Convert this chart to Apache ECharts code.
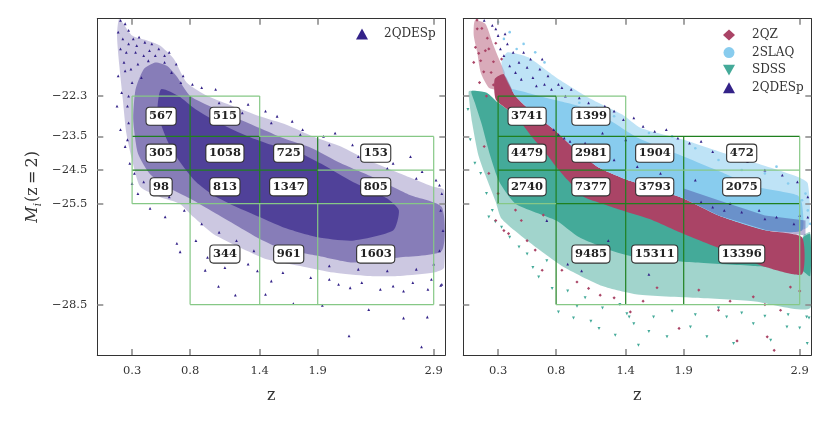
<!DOCTYPE html>
<html><head><meta charset="utf-8">
<script src="https://cdn.jsdelivr.net/npm/echarts@6/dist/echarts.min.js"></script>
<style>html,body{margin:0;padding:0;background:#fff}#c{width:830px;height:422px}</style>
</head><body><div id="c"></div>
<script>
// ---------- tick labels ----------
const zTicks = [0.3, 0.8, 1.4, 1.9, 2.9];
const mTicks = [-22.3, -23.5, -24.5, -25.5, -28.5];

// ---------- bins (z0, z1, M top, M bottom) ----------
const binZ0 = [0.3,0.3,0.3, 0.8,0.8,0.8,0.8, 1.4,1.4,1.4, 1.9,1.9,1.9];
const binZ1 = [0.8,0.8,0.8, 1.4,1.4,1.4,1.4, 1.9,1.9,1.9, 2.9,2.9,2.9];
const binMt = [-22.3,-23.5,-24.5, -22.3,-23.5,-24.5,-25.5, -23.5,-24.5,-25.5, -23.5,-24.5,-25.5];
const binMb = [-23.5,-24.5,-25.5, -23.5,-24.5,-25.5,-28.5, -24.5,-25.5,-28.5, -24.5,-25.5,-28.5];
const countsLeft  = [567,305,98, 515,1058,813,344, 725,1347,961, 153,805,1603];
const countsRight = [3741,4479,2740, 1399,2981,7377,9485, 1904,3793,15311, 472,2075,13396];

// bin edge segments [z0,M0,z1,M1, dark(1)/light(0)]
const edgesLeft = [
 [0.3,-23.5,1.4,-23.5,1],[0.3,-24.5,1.9,-24.5,1],[0.8,-22.3,0.8,-25.5,1],[1.4,-23.5,1.4,-25.5,1],[1.9,-23.5,1.9,-25.5,1],
 [0.3,-22.3,1.4,-22.3,0],[0.3,-22.3,0.3,-25.5,0],[1.4,-22.3,1.4,-23.5,0],[1.4,-23.5,2.9,-23.5,0],[1.9,-24.5,2.9,-24.5,0],
 [0.3,-25.5,2.9,-25.5,0],[0.8,-25.5,0.8,-28.5,0],[1.4,-25.5,1.4,-28.5,0],[1.9,-25.5,1.9,-28.5,0],[0.8,-28.5,2.9,-28.5,0],[2.9,-23.5,2.9,-28.5,0]
];
const edgesRight = [
 [0.3,-22.3,0.8,-22.3,1],[0.3,-23.5,2.9,-23.5,1],[0.3,-24.5,1.4,-24.5,1],[0.8,-25.5,2.9,-25.5,1],[0.3,-22.3,0.3,-25.5,1],
 [0.8,-22.3,0.8,-28.5,1],[1.4,-23.5,1.4,-28.5,1],[1.9,-23.5,1.9,-28.5,1],
 [0.8,-22.3,1.4,-22.3,0],[1.4,-22.3,1.4,-23.5,0],[1.4,-24.5,2.9,-24.5,0],[0.3,-25.5,0.8,-25.5,0],[0.8,-28.5,2.9,-28.5,0],[2.9,-23.5,2.9,-28.5,0]
];

// ---------- left panel: 2QDESp density regions (z, M) ----------
const desOuter = [[0.19,-20.0],[0.3,-20.5],[0.43,-20.65],[0.54,-20.8],[0.66,-21.2],[0.77,-21.9],[0.95,-22.3],[1.17,-22.6],[1.4,-22.9],[1.63,-23.15],[1.86,-23.5],[2.1,-23.8],[2.33,-24.2],[2.61,-24.6],[2.9,-25.0],[2.99,-25.1],[2.99,-27.4],[2.9,-27.55],[2.61,-27.65],[2.33,-27.65],[2.04,-27.55],[1.75,-27.35],[1.46,-27.15],[1.23,-26.8],[1.0,-26.4],[0.83,-25.9],[0.71,-25.5],[0.54,-25.3],[0.37,-25.0],[0.3,-24.2],[0.25,-23.4],[0.22,-22.4],[0.19,-21.4],[0.17,-20.5]];
const desMid = [[0.4,-21.5],[0.5,-21.3],[0.6,-21.4],[0.68,-21.7],[0.8,-22.3],[1.0,-22.65],[1.2,-22.95],[1.4,-23.25],[1.6,-23.55],[1.85,-23.85],[2.1,-24.3],[2.4,-24.75],[2.7,-25.25],[2.97,-25.6],[2.97,-26.9],[2.6,-27.1],[2.2,-27.25],[1.9,-27.05],[1.6,-26.85],[1.4,-26.55],[1.2,-26.15],[1.0,-25.75],[0.8,-25.35],[0.6,-25.0],[0.45,-24.6],[0.35,-24.0],[0.31,-23.0],[0.33,-22.1]];
const desCore = [[0.55,-22.1],[0.7,-22.3],[0.85,-22.7],[1.05,-23.1],[1.3,-23.5],[1.5,-23.75],[1.75,-24.0],[1.95,-24.35],[2.2,-24.85],[2.5,-25.35],[2.6,-25.7],[2.55,-26.3],[2.2,-26.6],[1.9,-26.5],[1.6,-26.2],[1.4,-25.9],[1.2,-25.6],[1.0,-25.25],[0.85,-24.85],[0.7,-24.2],[0.6,-23.6],[0.52,-22.8]];
const desDotsLeft = [[0.2,-20.05],[0.24,-20.15],[0.18,-20.4],[0.27,-20.35],[0.31,-20.6],[0.36,-20.55],[0.41,-20.7],[0.47,-20.75],[0.53,-20.9],[0.58,-21.1],[0.62,-21.0],[0.68,-21.35],[0.74,-21.7],[0.82,-21.95],[0.9,-22.05],[1.02,-22.1],[0.2,-20.9],[0.23,-21.3],[0.18,-21.7],[0.21,-22.2],[0.17,-22.6],[0.2,-23.3],[0.24,-23.8],[0.28,-24.3],[0.3,-24.9],[0.35,-25.2],[0.27,-20.75],[0.33,-21.0],[0.4,-21.1],[0.29,-21.5],[0.26,-22.6],
 [0.25,-21.0],[0.35,-21.35],[0.3,-21.9],[0.38,-21.75],[0.44,-21.25],[0.5,-21.1],[0.27,-22.3],[0.24,-21.55],[0.22,-20.6],[0.34,-20.8],[0.45,-20.95],[0.58,-21.3],[0.64,-21.6],[0.72,-21.9],[0.27,-23.1],[0.26,-23.6],[0.32,-24.6],[0.4,-24.85],[0.5,-25.1],[0.62,-25.3],[0.75,-25.7],[0.9,-26.1],[1.05,-26.35],[1.2,-26.6],[1.35,-26.9],[1.55,-27.05],[1.75,-27.2],[2.0,-27.35],[2.25,-27.45],[2.5,-27.5],[2.75,-27.45],[2.9,-27.3],[2.95,-24.95],[2.75,-24.75],[2.5,-24.45],[2.25,-24.1],[2.0,-23.75],[1.75,-23.45],[1.5,-23.1],[1.25,-22.8],[1.05,-22.5],
 [1.15,-22.45],[1.3,-22.55],[1.45,-22.75],[1.55,-22.9],[1.68,-23.05],[1.77,-23.3],[1.95,-23.5],[2.05,-23.4],[2.2,-23.75],[2.3,-23.95],[2.45,-24.0],[2.55,-24.3],[2.7,-24.1],[2.8,-24.55],[2.92,-24.8],[2.97,-25.2],[2.96,-25.7],[2.98,-26.3],[2.95,-26.9],
 [2.97,-27.9],[2.88,-27.75],[2.85,-28.05],[2.72,-27.85],[2.64,-28.1],[2.55,-27.95],[2.44,-28.05],[2.34,-28.65],[2.28,-27.85],[2.18,-28.0],[2.08,-27.9],[2.0,-27.75],[1.94,-28.52],[1.84,-27.7],[1.69,-28.47],[1.6,-27.55],[1.5,-27.8],[1.45,-28.2],[1.38,-27.5],[1.3,-27.3],[1.19,-28.22],[1.1,-27.4],[1.045,-27.96],[0.95,-27.1],[0.93,-27.48],[0.85,-26.6],[0.714,-26.93],[0.686,-26.68],[0.585,-25.89],[0.455,-25.64],[2.17,-29.43],[2.795,-29.76],[2.64,-28.9],[2.845,-28.87],[2.96,-27.93]];

// ---------- right panel regions (z, M) ----------
const sdssMid = [[0.05,-22.15],[0.2,-22.2],[0.3,-22.5],[0.5,-23.0],[0.8,-23.9],[1.2,-25.0],[1.6,-25.5],[2.0,-26.0],[2.5,-26.7],[2.9,-27.0],[2.93,-26.45],[2.99,-26.35],[2.99,-28.6],[2.5,-28.4],[2.0,-28.3],[1.5,-28.2],[1.2,-27.95],[0.85,-27.35],[0.57,-26.65],[0.33,-25.95],[0.28,-25.45],[0.19,-24.65],[0.13,-24.06],[0.075,-23.07],[0.05,-22.4]];
const sdssCore = [[0.07,-22.15],[0.2,-22.2],[0.3,-22.5],[0.5,-23.0],[0.8,-23.9],[1.2,-25.0],[1.6,-25.5],[2.0,-26.0],[2.5,-26.7],[2.9,-27.0],[2.93,-26.5],[2.99,-26.4],[2.99,-27.65],[2.9,-27.45],[2.5,-27.35],[2.0,-27.25],[1.5,-27.1],[1.28,-26.9],[1.0,-26.5],[0.8,-26.0],[0.45,-25.5],[0.31,-24.85],[0.23,-24.05],[0.16,-23.15],[0.1,-22.5]];
const qzBand = [[0.27,-21.8],[0.35,-21.65],[0.45,-22.3],[0.6,-22.8],[0.8,-23.35],[1.0,-24.0],[1.18,-24.45],[1.38,-24.75],[1.6,-25.0],[1.9,-25.35],[2.2,-25.85],[2.62,-26.3],[2.92,-26.5],[2.92,-27.6],[2.62,-27.4],[2.3,-26.95],[1.9,-26.4],[1.6,-25.95],[1.35,-25.68],[1.2,-25.5],[1.04,-25.3],[0.9,-24.8],[0.8,-24.4],[0.7,-23.95],[0.6,-23.55],[0.5,-23.1],[0.4,-22.75],[0.28,-22.4]];
const qzClump = [[0.1,-20.05],[0.19,-20.15],[0.26,-20.8],[0.32,-21.3],[0.36,-21.65],[0.3,-22.1],[0.22,-22.05],[0.15,-21.6],[0.12,-21.0],[0.09,-20.5]];
const slaqMid = [[0.33,-21.3],[0.38,-21.0],[0.56,-21.15],[0.8,-21.75],[1.08,-22.35],[1.37,-22.85],[1.53,-23.25],[1.9,-23.6],[2.25,-24.0],[2.53,-24.3],[2.88,-24.7],[2.97,-24.9],[2.97,-26.2],[2.62,-26.3],[2.2,-25.85],[1.9,-25.35],[1.6,-25.0],[1.38,-24.75],[1.18,-24.45],[1.0,-24.0],[0.8,-23.35],[0.6,-22.8],[0.45,-22.3],[0.35,-21.65]];
const slaqCore = [[0.42,-22.1],[0.55,-22.2],[0.71,-22.35],[1.0,-22.6],[1.23,-22.95],[1.51,-23.55],[1.9,-24.1],[2.25,-24.6],[2.53,-25.0],[2.88,-25.25],[2.92,-25.5],[2.92,-26.3],[2.62,-26.3],[2.2,-25.85],[1.9,-25.35],[1.6,-25.0],[1.38,-24.75],[1.18,-24.45],[1.0,-24.0],[0.8,-23.35],[0.6,-22.8],[0.45,-22.3]];
const desStrip = [[1.9,-25.05],[2.2,-25.4],[2.6,-25.85],[2.95,-26.0],[2.95,-26.45],[2.62,-26.3],[2.2,-25.85],[1.9,-25.35]];

const desDotsRight = [[0.18,-20.05],[0.25,-20.2],[0.3,-20.5],[0.32,-20.9],[0.38,-20.75],[0.43,-21.0],[0.48,-21.3],[0.45,-21.6],[0.55,-21.45],[0.6,-21.75],[0.66,-21.5],[0.7,-21.95],[0.76,-22.1],[0.82,-21.95],[0.88,-22.3],[0.93,-22.1],[1.0,-22.35],[1.08,-22.5],[1.15,-22.85],[1.22,-22.6],[1.3,-22.75],[1.38,-23.0],[1.47,-22.95],[1.55,-23.2],[1.65,-23.35],[1.75,-23.3],[1.85,-23.55],[1.95,-23.7],[2.05,-23.65],[2.15,-23.95],[2.3,-24.15],[2.45,-24.25],[2.6,-24.5],[2.75,-24.65],[2.88,-24.85],[2.97,-25.3],[2.97,-25.9],
 [0.35,-21.1],[0.4,-21.4],[0.52,-21.0],[0.58,-21.2],[0.63,-22.0],[0.68,-21.2],[0.73,-21.7],[0.85,-22.05],[0.5,-21.8],[0.28,-20.3],[0.36,-20.45],
 [0.78,-23.3],[0.82,-23.45],[0.87,-23.55],[0.92,-23.65],[0.97,-23.8],[1.05,-23.7],[1.3,-24.2],[1.5,-24.4],[1.7,-24.6],[2.0,-24.8],[1.4,-23.6],[1.2,-23.4],
 [2.05,-25.45],[2.15,-25.6],[2.3,-25.5],[2.4,-25.75],[2.55,-25.7],[2.7,-25.9],[2.85,-26.1],[2.9,-25.85],[2.6,-25.95],[2.25,-25.7],
 [0.72,-26.0],[0.9,-27.3],[1.02,-27.5],[1.25,-26.6],[1.6,-27.6],[0.55,-25.2]];
const sdssDots = [[0.276,-26.04],[0.33,-26.2],[0.48,-26.79],[0.65,-27.68],[0.766,-28.02],[0.82,-28.72],[1.17,-29.21],[1.31,-29.41],[0.98,-28.55],[1.43,-28.87],[1.51,-29.71],[1.47,-29.07],[1.64,-28.87],[1.756,-29.46],[1.958,-29.17],[2.1,-29.46],[2.27,-28.87],[2.33,-29.66],[2.5,-29.07],[2.65,-29.56],[2.79,-29.17],[2.965,-29.66],[2.96,-28.87],[1.41,-28.77],[0.25,-25.7],[0.2,-25.2],[0.15,-24.6],[0.1,-24.3],[0.06,-23.6],[0.04,-22.7],[0.22,-25.9],[0.4,-26.5],[0.55,-27.0],[0.6,-27.4],[0.72,-27.2],[0.9,-28.1],[1.05,-28.3],[1.2,-28.6],[1.35,-28.5],[1.8,-28.7],[2.0,-28.8],[2.2,-28.6],[2.4,-28.75],[2.6,-28.85],[2.8,-28.8],[2.9,-29.2],[2.98,-28.9],[1.1,-29.0],[0.95,-28.9],[1.6,-29.3]];
const qzDots = [[0.28,-26.0],[0.35,-26.3],[0.39,-26.39],[0.45,-25.69],[0.62,-26.88],[0.68,-27.48],[0.85,-27.48],[0.98,-27.83],[1.08,-28.02],[1.18,-28.22],[0.69,-25.84],[1.44,-28.72],[1.67,-28.0],[1.86,-29.21],[2.03,-28.07],[2.2,-28.67],[2.36,-29.58],[2.5,-28.27],[2.62,-29.46],[2.735,-28.67],[2.82,-27.98],[2.9,-28.1],[2.68,-29.86],[0.3,-25.2],[0.22,-24.6],[0.18,-23.8],[0.5,-26.0],[0.55,-26.6],[1.3,-28.3],[1.55,-28.4],[2.3,-28.4],[2.6,-28.5],
 [0.118,-20.04],[0.16,-20.29],[0.207,-20.58],[0.133,-21.03],[0.22,-20.9],[0.26,-21.28],[0.176,-21.58],[0.306,-21.77],[0.26,-21.97],[0.105,-20.85],[0.28,-20.73],[0.09,-21.3],[0.14,-21.9],[0.2,-22.3],[0.33,-21.2],[0.12,-20.3],[0.19,-20.95],[0.24,-21.6],[0.15,-21.25]];
const slaqDots = [[0.35,-20.6],[0.4,-20.4],[0.46,-20.9],[0.52,-20.75],[0.62,-21.0],[0.7,-21.3],[0.3,-20.1],[2.95,-25.2],[2.97,-25.7],[2.92,-25.4],[2.6,-24.6],[2.8,-24.9],[1.6,-23.4],[1.8,-23.5],[2.0,-23.85],[2.2,-24.2],[2.4,-24.5],[1.3,-22.9],[1.0,-22.5],[1.15,-22.65],[2.99,-26.1],[2.7,-24.4]];

// ---------- styling ----------
const FONT = 'DejaVu Serif';
const C_QZ = '#AA4466', C_SLAQ = '#88CCEE', C_SDSS = '#44AA99', C_DES = '#332288';
const DOWN_TRI = 'path://M0,0L10,0L5,9Z';

function poly(name, pts, gi, color, op, sm) {
  return { type: 'custom', name, xAxisIndex: gi, yAxisIndex: gi, silent: true, animation: false, clip: true, z: 2,
    data: [pts[0]], encode: { x: 0, y: 1 },
    renderItem: (p, api) => ({ type: 'polygon', shape: { points: pts.map(q => api.coord(q)), smooth: sm === undefined ? 0.2 : sm },
      style: { fill: color, opacity: op } }) };
}
function dots(name, pts, gi, color, symbol, size) {
  return { type: 'scatter', name, xAxisIndex: gi, yAxisIndex: gi, silent: true, animation: false, z: 3,
    symbol, symbolSize: size, data: pts, itemStyle: { color, opacity: 1 } };
}
function edges(segs, gi) {
  return { type: 'custom', xAxisIndex: gi, yAxisIndex: gi, silent: true, animation: false, z: 5,
    data: segs, encode: { x: [0, 2], y: [1, 3] },
    renderItem: (p, api) => {
      const a = api.coord([api.value(0), api.value(1)]), b = api.coord([api.value(2), api.value(3)]);
      return { type: 'line', shape: { x1: a[0], y1: a[1], x2: b[0], y2: b[1] },
        style: { stroke: api.value(4) ? '#1f801f' : '#86c886', lineWidth: 1.2 } };
    } };
}
function labels(counts, gi) {
  const d = counts.map((c, i) => [(binZ0[i] + binZ1[i]) / 2, (binMt[i] + binMb[i]) / 2, c]);
  return { type: 'custom', xAxisIndex: gi, yAxisIndex: gi, silent: true, animation: false, z: 6,
    data: d, encode: { x: 0, y: 1 },
    renderItem: (p, api) => {
      const c = api.coord([api.value(0), api.value(1)]);
      return { type: 'text', x: c[0], y: c[1], style: { text: String(api.value(2)), fontFamily: FONT, fontWeight: 'bold',
        fontSize: 11.5, fill: '#222', align: 'center', verticalAlign: 'middle', backgroundColor: '#fff',
        borderColor: '#333', borderWidth: 1.1, borderRadius: 3, padding: [2.5, 2.5, 1.5, 2.5], lineHeight: 13 } };
    } };
}

const tickStyle = { show: true, inside: true, length: 6, lineStyle: { color: '#8c8c8c', width: 1.6 } };
const lineStyle = { show: true, onZero: false, lineStyle: { color: '#333', width: 1 } };
function xAx(gi, pos, showLab) {
  return { type: 'value', gridIndex: gi, position: pos, min: 0, max: 3, z: 4,
    axisLine: lineStyle, splitLine: { show: false },
    axisTick: Object.assign({ customValues: zTicks }, tickStyle),
    axisLabel: { show: showLab, customValues: zTicks, formatter: v => v.toFixed(1), fontFamily: FONT, fontSize: 11.5, color: '#333', margin: 10 },
    name: showLab ? 'z' : '', nameLocation: 'middle', nameGap: 33,
    nameTextStyle: { fontFamily: FONT, fontSize: 16, color: '#333' } };
}
function yAx(gi, pos, showLab, showName) {
  return { type: 'value', gridIndex: gi, position: pos, min: -30, max: -20, z: 4,
    axisLine: lineStyle, splitLine: { show: false },
    axisTick: Object.assign({ customValues: mTicks }, tickStyle),
    axisLabel: { show: showLab, customValues: mTicks, formatter: v => '\u2212' + Math.abs(v).toFixed(1), fontFamily: FONT, fontSize: 11.5, color: '#333', margin: 10 },
    name: showName ? '{m|M}{s|i}{n|(z\u2009=\u20092)}' : '', nameLocation: 'middle', nameRotate: 90, nameGap: 54,
    nameTextStyle: { lineHeight: 20, rich: {
      m: { fontFamily: FONT, fontStyle: 'italic', fontSize: 16, color: '#333', lineHeight: 20 },
      s: { fontFamily: FONT, fontStyle: 'italic', fontSize: 10.5, color: '#333', verticalAlign: 'bottom', lineHeight: 20, padding: [0, 1, 0, 0] },
      n: { fontFamily: FONT, fontSize: 16, color: '#333', lineHeight: 20 } } } };
}

const option = {
  backgroundColor: '#fff',
  animation: false,
  grid: [
    { left: 97.3, top: 18.7, width: 348, height: 336.3 },
    { left: 463.3, top: 18.7, width: 348, height: 336.3 }
  ],
  xAxis: [xAx(0, 'bottom', true), xAx(1, 'bottom', true), xAx(0, 'top', false), xAx(1, 'top', false)],
  yAxis: [yAx(0, 'left', true, true), yAx(1, 'left', false, false), yAx(0, 'right', false, false), yAx(1, 'right', false, false)],
  legend: [
    { left: 351, top: 23, itemWidth: 12, itemHeight: 11, selectedMode: false,
      data: [{ name: '2QDESp', icon: 'triangle', itemStyle: { color: C_DES } }],
      textStyle: { fontFamily: FONT, fontSize: 12, color: '#333', padding: [0, 0, 0, 11] } },
    { left: 718, top: 23, orient: 'vertical', itemGap: 3.6, itemWidth: 12, itemHeight: 11, selectedMode: false,
      data: [
        { name: '2QZ', icon: 'diamond', itemStyle: { color: C_QZ } },
        { name: '2SLAQ', icon: 'circle', itemStyle: { color: C_SLAQ } },
        { name: 'SDSS', icon: DOWN_TRI, itemStyle: { color: C_SDSS } },
        { name: '2QDESp', icon: 'triangle', itemStyle: { color: C_DES } }
      ],
      textStyle: { fontFamily: FONT, fontSize: 12, color: '#333', lineHeight: 14, padding: [0, 0, 0, 12] } }
  ],
  series: [
    // left panel
    poly('des_outer', desOuter, 0, C_DES, 0.25),
    poly('des_mid', desMid, 0, C_DES, 0.45),
    poly('des_core', desCore, 0, C_DES, 0.65),
    dots('2QDESp', desDotsLeft, 0, C_DES, 'triangle', 2.8),
    edges(edgesLeft, 0),
    labels(countsLeft, 0),
    // right panel
    poly('sdss_mid', sdssMid, 1, C_SDSS, 0.5),
    poly('sdss_core', sdssCore, 1, C_SDSS, 1),
    dots('SDSS', sdssDots, 1, C_SDSS, DOWN_TRI, 3),
    poly('qz_band', qzBand, 1, C_QZ, 1),
    poly('qz_clump', qzClump, 1, C_QZ, 0.45),
    dots('2QZ', qzDots, 1, C_QZ, 'diamond', 3.2),
    poly('slaq_mid', slaqMid, 1, C_SLAQ, 0.55),
    poly('slaq_core', slaqCore, 1, C_SLAQ, 1),
    dots('2SLAQ', slaqDots, 1, C_SLAQ, 'circle', 2.6),
    poly('des_strip', desStrip, 1, C_DES, 0.35, 0),
    dots('2QDESp', desDotsRight, 1, C_DES, 'triangle', 2.8),
    edges(edgesRight, 1),
    labels(countsRight, 1)
  ]
};
const chart = echarts.init(document.getElementById('c'), null, { renderer: 'canvas' });
chart.setOption(option);
</script>
</body></html>
